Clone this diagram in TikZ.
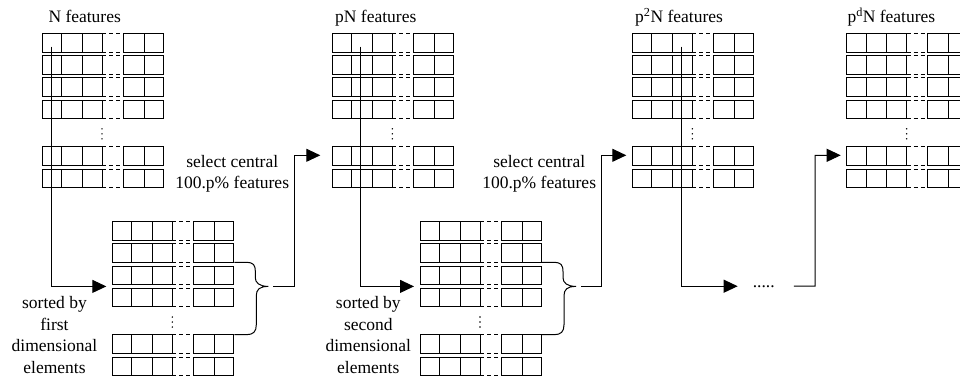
\documentclass[tikz,border=0pt]{standalone}
\usepackage{fontspec}
\setmainfont{Liberation Serif}
\newfontfamily\lblfont{Liberation Serif}
\usetikzlibrary{arrows.meta}

\tikzset{
  cellline/.style={line width=1pt, draw=black},
  gapline/.style={line width=1pt, draw=black, dash pattern=on 4pt off 3pt},
  conn/.style={line width=1pt, draw=black, -{Triangle[length=14pt,width=13pt]}, shorten >=6pt},
  braceline/.style={line width=1pt, draw=black},
  lbl/.style={inner sep=0pt, font=\lblfont\fontsize{17.5}{21.6}\selectfont},
  % a block of feature vectors: four rows, a vertical ellipsis, two rows
  featblock/.pic={
    \foreach \r in {0,22.2,44.4,66.6,113,135.5} {
      \draw[cellline] (0,\r) rectangle ++(60,18.5);
      \draw[cellline] (19.5,\r) -- ++(0,18.5) (40,\r) -- ++(0,18.5);
      \draw[cellline] (81,\r) rectangle ++(40,18.5);
      \draw[cellline] (102,\r) -- ++(0,18.5);
      \draw[gapline] (60,\r) -- (81,\r) (60,\r+18.5) -- (81,\r+18.5);
    }
    \foreach \d in {95.3,100.3,105.3} \fill (60,\d) circle (0.8pt);
    \coordinate (-c1) at (9.2,13.2);
    \coordinate (-c2) at (28.4,13.2);
    \coordinate (-c3) at (49,13.2);
    \coordinate (-mid) at (0,64.7);
    \coordinate (-in) at (0,121.8);
  },
  % brace gathering the central rows of a sorted block
  selbrace/.pic={
    \draw[braceline] (122,40.7) -- (134,40.7)
      .. controls (141,40.7) and (143,43) .. (143,50)
      -- (143,56)
      .. controls (143,61) and (147,64.7) .. (156,64.7)
      .. controls (147,64.7) and (144,68) .. (144,74)
      -- (144,103)
      .. controls (144,110) and (141,113) .. (134,113)
      -- (122,113);
    \coordinate (-out) at (161,64.7);
    \coordinate (-bend) at (181.7,64.7);
  },
}

\begin{document}
\begin{tikzpicture}[x=1pt,y=-1pt]
  \useasboundingbox (0,0) rectangle (960,378);
  \clip (0,0) rectangle (960,378);

  % feature blocks
  \pic (N)  at (42,33.5)    {featblock};
  \pic (P1) at (332.3,33.5) {featblock};
  \pic (P2) at (632.3,33.5) {featblock};
  \pic (Pd) at (846.7,33.5) {featblock};
  \pic (S1) at (112.3,221.7) {featblock};
  \pic (S2) at (420,221.7)   {featblock};
  \pic (B1) at (112.3,221.7) {selbrace};
  \pic (B2) at (420,221.7)   {selbrace};

  % titles
  \node[lbl, anchor=base west] (tN)  at (48.3,22)  {N features};
  \node[lbl, anchor=base west] (tP1) at (335,22.3) {pN features};
  \node[lbl, anchor=base west] (tP2) at (635,22.3) {p\textsuperscript{2}N features};
  \node[lbl, anchor=base west] (tPd) at (847.3,22.3) {p\textsuperscript{d}N features};

  % step labels
  \node[lbl, align=center, anchor=north] (tS1) at (54.5,296.3)
    {sorted by\\first\\dimensional\\elements};
  \node[lbl, align=center, anchor=north] (tS2) at (368.3,296.3)
    {sorted by\\second\\dimensional\\elements};
  \node[lbl, align=center, anchor=north] (tC1) at (232.2,154.7)
    {select central\\100.p\% features};
  \node[lbl, align=center, anchor=north] (tC2) at (539.2,154.7)
    {select central\\100.p\% features};
  \node[lbl, anchor=base] (dots) at (763.8,287) {.....};
  \coordinate (K3) at (815,286.1);

  % connectors
  \draw[conn] (N-c1) |- (S1-mid);
  \draw[conn] (P1-c2) |- (S2-mid);
  \draw[conn, shorten >=15pt] (P2-c3) |- (dots.west);
  \draw[conn, shorten >=12pt] (B1-out) -- (B1-bend) |- (P1-in);
  \draw[conn] (B2-out) -- (B2-bend) |- (P2-in);
  \draw[conn, shorten <=19pt] (dots.east) -- (K3) |- (Pd-in);
\end{tikzpicture}
\end{document}
